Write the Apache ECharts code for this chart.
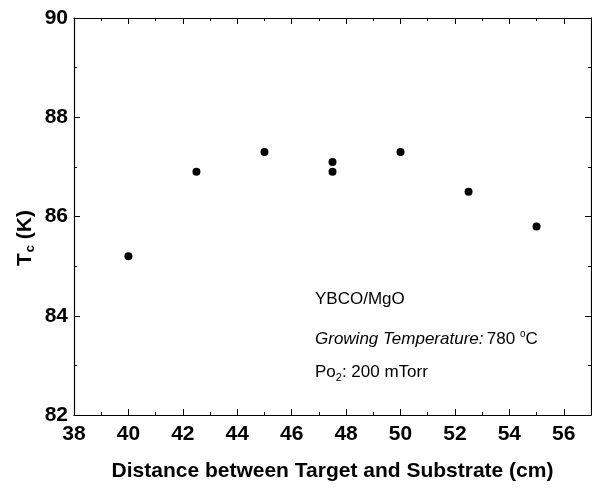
<!DOCTYPE html>
<html>
<head>
<meta charset="utf-8">
<script src="https://cdn.jsdelivr.net/npm/echarts@6/dist/echarts.min.js"></script>
<style>
  * { margin: 0; padding: 0; }
  html, body { background: #fff; }
  #chart { width: 592px; height: 488px; }
</style>
</head>
<body>
<div id="chart"></div>
<script>
// distance target-substrate (cm) and Tc (K)
var distance = [40, 42.5, 45, 47.5, 47.5, 50, 52.5, 55];
var tc = [85.2, 86.9, 87.3, 87.1, 86.9, 87.3, 86.5, 85.8];
var xTicks = [38, 40, 42, 44, 46, 48, 50, 52, 54, 56];
var yTicks = [82, 84, 86, 88, 90];

var points = distance.map(function (d, i) { return [d, tc[i]]; });

var chart = echarts.init(document.getElementById('chart'));
var labelFont = 'Liberation Sans, Arial, sans-serif';

function frameAxis(extra) {
  var base = {
    axisLine: { show: true, lineStyle: { color: '#000', width: 1.2 } },
    axisTick: { show: true, inside: true, length: 6, lineStyle: { color: '#000', width: 1 } },
    minorTick: { show: true, splitNumber: 2, length: 3, lineStyle: { color: '#000', width: 1 } },
    splitLine: { show: false },
    axisLabel: { show: false }
  };
  return Object.assign(base, extra);
}

var option = {
  animation: false,
  backgroundColor: '#fff',
  grid: { left: 74, right: 1, top: 18, bottom: 73, containLabel: false },
  xAxis: [
    frameAxis({
      type: 'value', min: 38, max: 57, interval: 2, position: 'bottom',
      axisLabel: {
        show: true, color: '#000', fontSize: 21, fontWeight: 'bold', fontFamily: labelFont,
        margin: 9, showMaxLabel: false,
        formatter: function (v) { return xTicks.indexOf(v) >= 0 ? String(v) : ''; }
      },
      name: 'Distance between Target and Substrate (cm)',
      nameLocation: 'middle', nameGap: 46,
      nameTextStyle: { color: '#000', fontSize: 21, fontWeight: 'bold', fontFamily: labelFont }
    }),
    frameAxis({ type: 'value', min: 38, max: 57, interval: 2, position: 'top' })
  ],
  yAxis: [
    frameAxis({
      type: 'value', min: 82, max: 90, interval: 2, position: 'left',
      axisLabel: {
        show: true, color: '#000', fontSize: 21, fontWeight: 'bold', fontFamily: labelFont,
        margin: 6,
        formatter: function (v) { return yTicks.indexOf(v) >= 0 ? String(v) : ''; }
      }
    }),
    frameAxis({ type: 'value', min: 82, max: 90, interval: 2, position: 'right' })
  ],
  graphic: [
    {
      // y axis title, rotated
      type: 'text', x: 25, y: 238, rotation: Math.PI / 2,
      style: {
        text: '{b|T}{s|c}{b| (K)}',
        align: 'center', verticalAlign: 'middle',
        rich: {
          b: { fill: '#000', fontSize: 21, fontWeight: 'bold', fontFamily: labelFont },
          s: { fill: '#000', fontSize: 13, fontWeight: 'bold', fontFamily: labelFont, padding: [10, 0, 0, 1] }
        }
      }
    },
    {
      type: 'text', left: 315, top: 291,
      style: { text: 'YBCO/MgO', fill: '#000', fontSize: 17, fontFamily: labelFont }
    },
    {
      type: 'text', left: 315, top: 329,
      style: {
        text: '{i|Growing Temperature:} {n|780 }{u|o}{n|C}',
        rich: {
          i: { fill: '#000', fontSize: 17, fontStyle: 'italic', fontFamily: labelFont },
          n: { fill: '#000', fontSize: 17, fontFamily: labelFont },
          u: { fill: '#000', fontSize: 10, fontFamily: labelFont, padding: [0, 0, 10, 0] }
        }
      }
    },
    {
      type: 'text', left: 315, top: 364,
      style: {
        text: '{n|Po}{s|2}{n|: 200 mTorr}',
        rich: {
          n: { fill: '#000', fontSize: 17, fontFamily: labelFont },
          s: { fill: '#000', fontSize: 11, fontFamily: labelFont, padding: [10, 0, 0, 0] }
        }
      }
    }
  ],
  series: [{
    type: 'scatter',
    xAxisIndex: 0, yAxisIndex: 0,
    data: points,
    symbol: 'circle',
    symbolSize: 8,
    itemStyle: { color: '#000', opacity: 1 }
  }]
};

chart.setOption(option);
</script>
</body>
</html>
